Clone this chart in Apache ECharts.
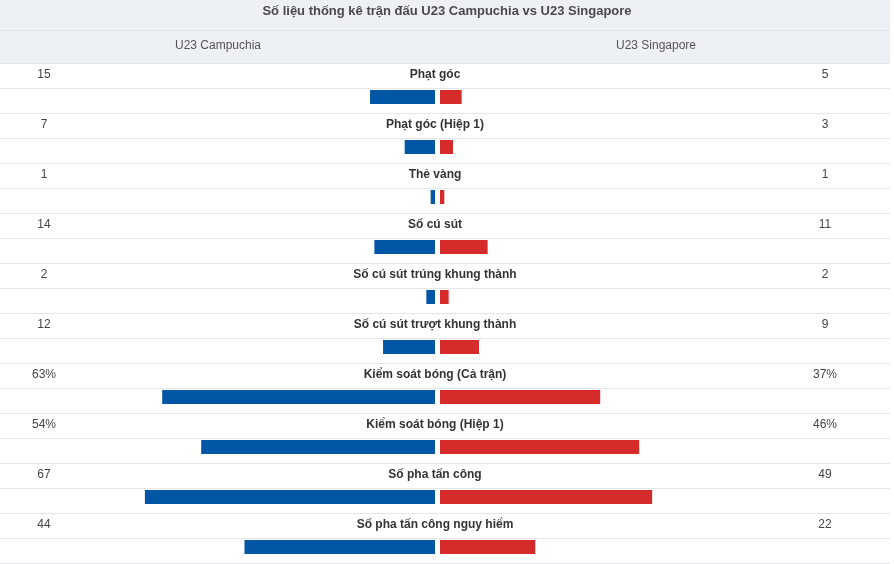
<!DOCTYPE html>
<html lang="vi">

<head>
  <meta charset="UTF-8">
  <title>Số liệu thống kê</title>
  <script src="https://cdn.jsdelivr.net/npm/echarts@6/dist/echarts.min.js"></script>
  <style>
    html, body { margin: 0; padding: 0; background: #fff; }
  </style>
</head>

<body>
  <div id="main" style="width: 894px;height:564px"></div>
  <script>
    // tên chỉ số và số liệu hai đội
    var statNames = ['Phạt góc', 'Phạt góc (Hiệp 1)', 'Thẻ vàng', 'Số cú sút', 'Số cú sút trúng khung thành',
      'Số cú sút trượt khung thành', 'Kiểm soát bóng (Cả trận)', 'Kiểm soát bóng (Hiệp 1)', 'Số pha tấn công',
      'Số pha tấn công nguy hiểm']
    var homeValues = [15, 7, 1, 14, 2, 12, 63, 54, 67, 44]
    var awayValues = [5, 3, 1, 11, 2, 9, 37, 46, 49, 22]
    var units = ['', '', '', '', '', '', '%', '%', '', '']
    var title = 'Số liệu thống kê trận đấu U23 Campuchia vs U23 Singapore'
    var homeName = 'U23 Campuchia'
    var awayName = 'U23 Singapore'

    var font = 'Arial, "Liberation Sans", sans-serif'
    var lineColor = '#e3e6ea'

    var mCharts = echarts.init(document.getElementById('main'))

    var option = {
      animation: false,
      graphic: [
        { type: 'rect', shape: { x: 0, y: 0, width: 890, height: 63 }, style: { fill: '#edf1f5' } },
        { type: 'rect', shape: { x: 0, y: 30, width: 890, height: 1 }, style: { fill: '#dde2e7' } },
        {
          type: 'text', x: 447, y: 11,
          style: { text: title, font: 'bold 13px ' + font, fill: '#4a4a4a', align: 'center', verticalAlign: 'middle' }
        },
        {
          type: 'text', x: 218, y: 46,
          style: { text: homeName, font: '12px ' + font, fill: '#555', align: 'center', verticalAlign: 'middle' }
        },
        {
          type: 'text', x: 656, y: 46,
          style: { text: awayName, font: '12px ' + font, fill: '#555', align: 'center', verticalAlign: 'middle' }
        }
      ],
      // lưới cao hơn khung vẽ nên tắt việc co lưới vào trong
      grid: [
        { left: 2, width: 433, top: 72, height: 500, outerBoundsMode: 'none' },
        { left: 440, width: 433, top: 72, height: 500, outerBoundsMode: 'none' }
      ],
      xAxis: [
        { type: 'value', gridIndex: 0, min: 0, max: 100, inverse: true, show: false },
        { type: 'value', gridIndex: 1, min: 0, max: 100, show: false }
      ],
      yAxis: [
        { type: 'category', gridIndex: 0, data: statNames, inverse: true, show: false },
        { type: 'category', gridIndex: 1, data: statNames, inverse: true, show: false }
      ],
      series: [
        {
          // chữ và đường kẻ của từng dòng
          type: 'custom',
          xAxisIndex: 0,
          yAxisIndex: 0,
          silent: true,
          data: statNames.map(function (name, i) { return [0, i] }),
          renderItem: function (params, api) {
            var i = api.value(1)
            var y = api.coord([0, i])[1]
            var children = [
              { type: 'rect', shape: { x: 0, y: y - 34, width: 890, height: 1 }, style: { fill: lineColor } },
              { type: 'rect', shape: { x: 0, y: y - 9, width: 890, height: 1 }, style: { fill: lineColor } },
              {
                type: 'text', x: 435, y: y - 22,
                style: { text: statNames[i], font: 'bold 12px ' + font, fill: '#333', align: 'center', verticalAlign: 'middle' }
              },
              {
                type: 'text', x: 44, y: y - 22,
                style: { text: homeValues[i] + units[i], font: '12px ' + font, fill: '#444', align: 'center', verticalAlign: 'middle' }
              },
              {
                type: 'text', x: 825, y: y - 22,
                style: { text: awayValues[i] + units[i], font: '12px ' + font, fill: '#444', align: 'center', verticalAlign: 'middle' }
              }
            ]
            if (i === statNames.length - 1) {
              children.push({ type: 'rect', shape: { x: 0, y: y + 16, width: 890, height: 1 }, style: { fill: lineColor } })
            }
            return { type: 'group', children: children }
          }
        },
        {
          type: 'bar',
          xAxisIndex: 0,
          yAxisIndex: 0,
          data: homeValues,
          barWidth: 14,
          itemStyle: { color: '#0256a5' }
        },
        {
          type: 'bar',
          xAxisIndex: 1,
          yAxisIndex: 1,
          data: awayValues,
          barWidth: 14,
          itemStyle: { color: '#d62b2b' }
        }
      ]
    }
    mCharts.setOption(option)
  </script>
</body>

</html>
